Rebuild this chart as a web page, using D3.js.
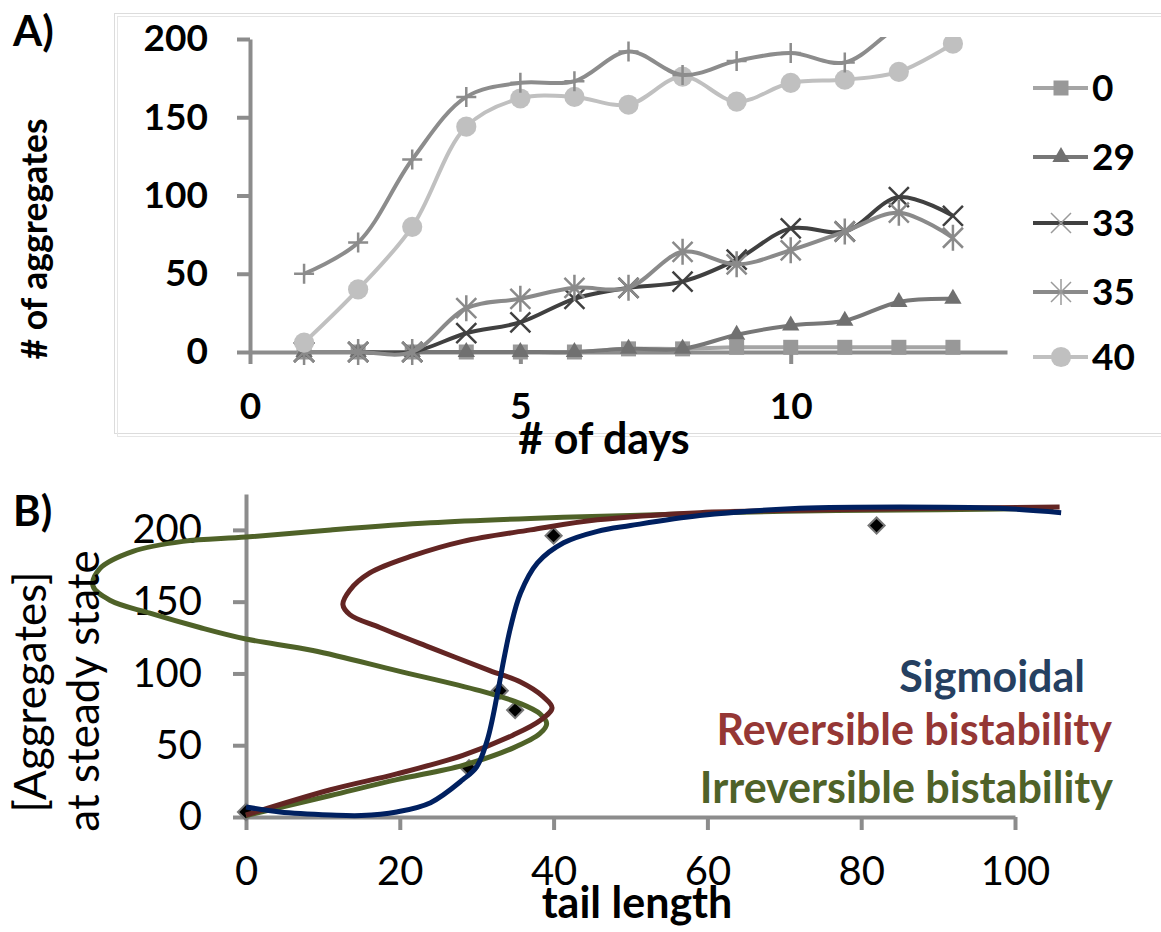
<!DOCTYPE html>
<html>
<head>
<meta charset="utf-8">
<script src="https://cdn.jsdelivr.net/npm/d3@7"></script>
<style>
    body { margin: 0; background: #fff; }
    text { font-family: Lato, "Open Sans", sans-serif; }
</style>
</head>
<body>
<div id="vis-container"></div>
<script>
// ---- Data: panel A (aggregates over time) ----
var days = [1, 2, 3, 4, 5, 6, 7, 8, 9, 10, 11, 12, 13];
var tail0 = [0, 0, 0, 0, 0, 0, 2, 2, 3, 3, 3, 3, 3];
var tail29 = [0, 0, 0, 0, 0, 0, 2, 2, 11, 17, 20, 32, 34];
var tail33 = [0, 0, 0, 12, 19, 34, 41, 45, 59, 79, 77, 99, 87];
var tail35 = [0, 0, 0, 28, 34, 41, 41, 64, 56, 65, 77, 89, 73];
var tail40 = [6, 40, 80, 144, 162, 163, 158, 176, 160, 172, 174, 179, 197];
var tailPlus = [50, 70, 123, 163, 172, 173, 192, 177, 186, 191, 185, 208, 222]; // series without legend entry
var legendLabelsA = ["0", "29", "33", "35", "40"];
var yTicksA = [0, 50, 100, 150, 200];
var xTicksA = [0, 5, 10];

// ---- Data: panel B (steady state vs tail length), [tail length, aggregates] ----
var measuredTail = [0, 29, 33, 35, 40, 82];
var measuredAgg = [3.5, 34, 88, 74.5, 196, 203];
var sigmoidal = [[0, 7], [4.4, 3.5], [11, 1.4], [15, 1], [19.6, 3.5], [24, 10], [28.2, 26], [30, 35],
    [31.4, 54], [32.7, 86], [33.5, 109], [34.4, 132], [35.7, 156], [37.9, 177], [41.3, 191],
    [45.7, 199], [50, 203], [59, 210], [72, 215], [85, 216], [98, 215], [106, 212]];
var reversible = [[0, 1.4], [11, 19], [19.6, 30], [28.2, 43], [34.7, 57], [38.2, 67], [39.8, 76],
    [38.6, 84], [35.7, 94], [31.7, 102], [24, 118], [17.4, 132], [13.5, 141], [12.6, 148],
    [13.5, 158], [16.1, 170], [21.7, 182], [28.2, 192], [37, 200], [45.7, 207], [59, 212],
    [75, 214], [90, 215], [105.8, 216]];
var irreversible = [[0, 1], [11, 15], [19.6, 26], [28.2, 36], [34.7, 48], [38.2, 58], [39.1, 65],
    [38.2, 72], [35.7, 79], [30.4, 88], [19.6, 102], [8.7, 116], [0, 124], [-6, 132], [-12.5, 142],
    [-17.7, 151], [-19.9, 161], [-19, 173], [-14.7, 185], [-8.2, 192], [0, 195], [11, 200],
    [24, 205], [37, 208], [50, 210], [70, 213], [90, 214], [105, 215]];
var modelLabels = ["Sigmoidal", "Reversible bistability", "Irreversible bistability"];
var yTicksB = [0, 50, 100, 150, 200];
var xTicksB = [0, 20, 40, 60, 80, 100];

var svg = d3.select("#vis-container").append("svg").attr("width", 1161).attr("height", 932);

var axisColor = "#8c8c8c";

// =================== Panel A ===================
var xA = d3.scaleLinear().domain([0, 14]).range([250, 1007]);
var yA = d3.scaleLinear().domain([0, 200]).range([352, 39]);

// light frame around panel A
svg.append("rect").attr("x", 114.5).attr("y", 13.5).attr("width", 1050).attr("height", 420)
    .attr("fill", "none").attr("stroke", "#dcdcdc").attr("stroke-width", 1);
svg.append("rect").attr("x", 117.5).attr("y", 16.5).attr("width", 1050).attr("height", 420)
    .attr("fill", "none").attr("stroke", "#e6e6e6").attr("stroke-width", 1);

svg.append("defs").append("clipPath").attr("id", "clipA")
    .append("rect").attr("x", 0).attr("y", 37).attr("width", 1161).attr("height", 400);

function styleAxis(g) {
    g.select(".domain").attr("stroke", axisColor).attr("stroke-width", 4);
    g.selectAll(".tick line").attr("stroke", axisColor).attr("stroke-width", 4);
    g.selectAll(".tick text").attr("fill", "#000");
}

var axisA = svg.append("g");
axisA.append("g")
    .attr("transform", "translate(0," + yA(0) + ")")
    .call(d3.axisBottom(xA).tickValues(xTicksA).tickSize(12).tickSizeOuter(0).tickPadding(29))
    .call(styleAxis)
    .call(function (g) {
        g.selectAll("text").attr("font-size", 37).attr("font-weight", "bold").attr("font-family", "Lato");
    });
axisA.append("g")
    .attr("transform", "translate(" + xA(0) + ",0)")
    .call(d3.axisLeft(yA).tickValues(yTicksA).tickSize(13).tickSizeOuter(0).tickPadding(29))
    .call(styleAxis)
    .call(function (g) {
        g.selectAll("text").attr("font-size", 37).attr("font-weight", "bold").attr("font-family", "Lato");
    });

// marker helpers
var markerPaths = {
    square: d3.symbol().type(d3.symbolSquare).size(225)(),
    triangle: d3.symbol().type(d3.symbolTriangle).size(130)(),
    circle: d3.symbol().type(d3.symbolCircle).size(320)(),
    cross: "M-10,-10L10,10M-10,10L10,-10",
    star: "M-10,-10L10,10M-10,10L10,-10M0,-13L0,13",
    plus: "M-10,0L10,0M0,-10L0,10"
};

var seriesA = [
    {values: tail0, color: "#a5a5a5", marker: "square", fill: "#989898", label: legendLabelsA[0]},
    {values: tail29, color: "#777777", marker: "triangle", fill: "#707070", label: legendLabelsA[1]},
    {values: tail33, color: "#404040", marker: "cross", fill: "none", label: legendLabelsA[2]},
    {values: tail35, color: "#8a8a8a", marker: "star", fill: "none", label: legendLabelsA[3]},
    {values: tail40, color: "#c0c0c0", marker: "circle", fill: "#c0c0c0", label: legendLabelsA[4]},
    {values: tailPlus, color: "#8c8c8c", marker: "plus", fill: "none", label: null}
];

var lineA = d3.line()
    .x(function (d, i) { return xA(days[i]); })
    .y(function (d) { return yA(d); })
    .curve(d3.curveCatmullRom.alpha(0.5));

var plotA = svg.append("g").attr("clip-path", "url(#clipA)");

seriesA.forEach(function (s) {
    var g = plotA.append("g");
    g.append("path")
        .attr("d", lineA(s.values))
        .attr("fill", "none")
        .attr("stroke", s.color)
        .attr("stroke-width", 4);
    g.selectAll(".mk").data(s.values).enter().append("path")
        .attr("transform", function (d, i) { return "translate(" + xA(days[i]) + "," + yA(d) + ")"; })
        .attr("d", markerPaths[s.marker])
        .attr("fill", s.fill === "none" ? "none" : s.fill)
        .attr("stroke", s.fill === "none" ? s.color : "none")
        .attr("stroke-width", 2.5);
});

// legend panel A
var legendYs = [88, 157, 223, 292, 357];
seriesA.filter(function (s) { return s.label !== null; }).forEach(function (s, i) {
    var g = svg.append("g").attr("transform", "translate(0," + legendYs[i] + ")");
    g.append("line").attr("x1", 1033).attr("x2", 1088).attr("y1", 0).attr("y2", 0)
        .attr("stroke", s.color).attr("stroke-width", 4);
    g.append("path").attr("transform", "translate(1061,0)")
        .attr("d", markerPaths[s.marker])
        .attr("fill", s.fill === "none" ? "none" : s.fill)
        .attr("stroke", s.fill === "none" ? "#9a9a9a" : "none")
        .attr("stroke-width", 1.5);
    g.append("text").attr("x", 1092).attr("y", 13)
        .attr("font-size", 37).attr("font-weight", "bold").text(s.label);
});

// panel A titles
svg.append("text").attr("x", 13).attr("y", 46).attr("font-size", 42).attr("font-weight", "bold").text("A)");
svg.append("text").attr("transform", "translate(47,239) rotate(-90)")
    .attr("text-anchor", "middle").attr("font-size", 35.5).attr("font-weight", "bold").text("# of aggregates");
svg.append("text").attr("x", 604).attr("y", 454)
    .attr("text-anchor", "middle").attr("font-size", 43).attr("font-weight", "bold").text("# of days");

// =================== Panel B ===================
var xB = d3.scaleLinear().domain([0, 100]).range([246, 1015]);
var yB = d3.scaleLinear().domain([0, 225]).range([817, 494]);

var axisB = svg.append("g");
axisB.append("g")
    .attr("transform", "translate(0," + yB(0) + ")")
    .call(d3.axisBottom(xB).tickValues(xTicksB).tickSize(13).tickSizeOuter(0).tickPadding(27))
    .call(styleAxis)
    .call(function (g) {
        g.selectAll("text").attr("font-size", 40).attr("font-family", "Lato");
    });
axisB.append("g")
    .attr("transform", "translate(" + xB(0) + ",0)")
    .call(d3.axisLeft(yB).tickValues(yTicksB).tickSize(13).tickSizeOuter(0).tickPadding(31))
    .call(styleAxis)
    .call(function (g) {
        g.selectAll("text").attr("font-size", 40).attr("font-family", "Lato");
    });

// measured points (diamonds)
svg.append("g").selectAll("path").data(measuredTail).enter().append("path")
    .attr("transform", function (d, i) { return "translate(" + xB(d) + "," + yB(measuredAgg[i]) + ") rotate(45)"; })
    .attr("d", d3.symbol().type(d3.symbolSquare).size(130)())
    .attr("fill", "#000")
    .attr("stroke", "#777")
    .attr("stroke-width", 2);

var lineB = d3.line()
    .x(function (d) { return xB(d[0]); })
    .y(function (d) { return yB(d[1]); })
    .curve(d3.curveCatmullRom.alpha(0.5));

var models = [
    {pts: irreversible, color: "#4f6228", text: "#4f6228", label: modelLabels[2], tx: 1113, ty: 803},
    {pts: reversible, color: "#632523", text: "#953735", label: modelLabels[1], tx: 1112, ty: 745},
    {pts: sigmoidal, color: "#002060", text: "#254061", label: modelLabels[0], tx: 1085, ty: 692}
];

models.forEach(function (m) {
    svg.append("path")
        .attr("d", lineB(m.pts))
        .attr("fill", "none")
        .attr("stroke", m.color)
        .attr("stroke-width", 5);
    svg.append("text")
        .attr("x", m.tx).attr("y", m.ty)
        .attr("text-anchor", "end")
        .attr("font-size", 43).attr("font-weight", "bold")
        .attr("fill", m.text)
        .text(m.label);
});

// panel B titles
svg.append("text").attr("x", 13).attr("y", 526).attr("font-size", 42).attr("font-weight", "bold").text("B)");
svg.append("text").attr("transform", "translate(46,692) rotate(-90)")
    .attr("text-anchor", "middle").attr("font-size", 44).text("[Aggregates]");
svg.append("text").attr("transform", "translate(99,691) rotate(-90)")
    .attr("text-anchor", "middle").attr("font-size", 44).text("at steady state");
svg.append("text").attr("x", 637).attr("y", 918)
    .attr("text-anchor", "middle").attr("font-size", 43).attr("font-weight", "bold").text("tail length");
</script>
</body>
</html>
